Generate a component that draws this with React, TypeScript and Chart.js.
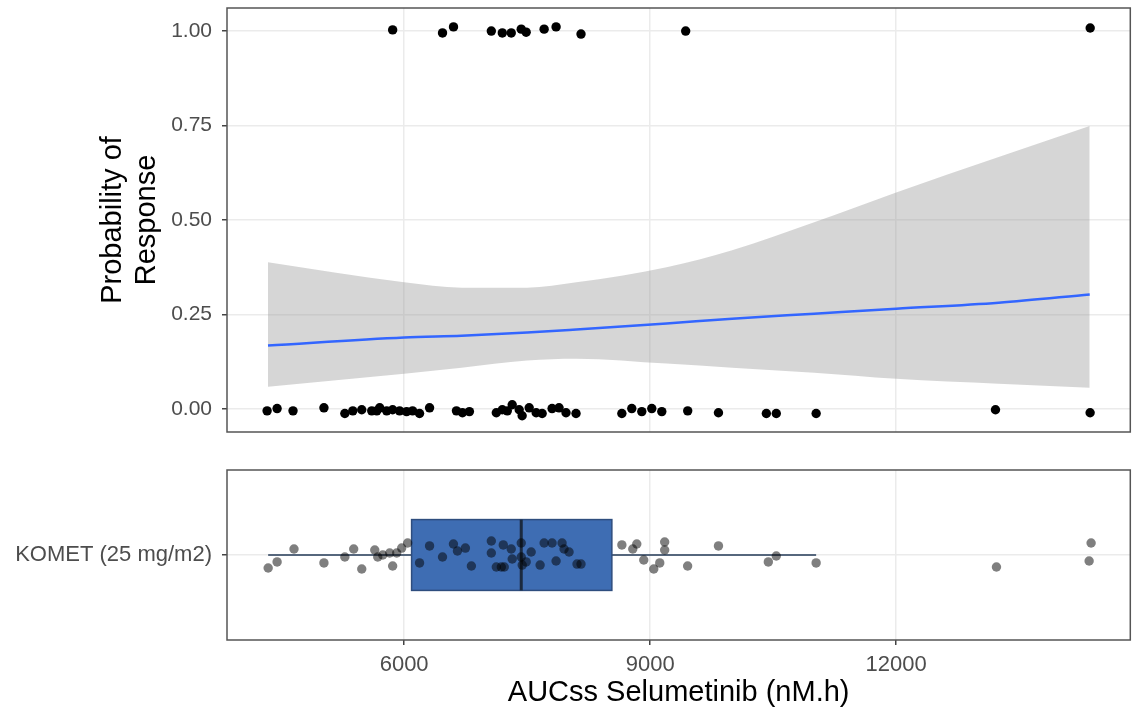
import React, { useEffect, useRef } from "react";
import { Chart, registerables } from "chart.js";

Chart.register(...registerables);

const FONT = "'Liberation Sans', Arial, sans-serif";

// Axis ticks
const xTicks = [6000, 9000, 12000];
const yTicks = [0, 0.25, 0.5, 0.75, 1];
const xMin = 3840;
const xMax = 14855;

// Responders (y jittered around 1)
const responderAUC = [5860, 6468, 6602, 7063, 7197, 7306, 7428, 7488, 7707, 7853, 8157, 9433, 14366];
const responderY = [1.003, 0.995, 1.011, 1.0, 0.995, 0.995, 1.005, 0.997, 1.005, 1.011, 0.992, 1.0, 1.008];

// Non-responders (y jittered around 0)
const nonResponderAUC = [
  4329, 4451, 4645, 5022, 5277, 5374, 5483, 5605, 5666, 5702, 5787, 5860, 5945, 6030, 6103,
  6188, 6310, 6638, 6711, 6796, 7124, 7197, 7258, 7318, 7403, 7439, 7525, 7610, 7683, 7804,
  7889, 7974, 8096, 8655, 8776, 8898, 9020, 9142, 9458, 9833, 10417, 10538, 11024, 13211, 14365,
];
const nonResponderY = [
  -0.005, 0.001, -0.005, 0.003, -0.012, -0.005, -0.002, -0.005, -0.005, 0.003, -0.005, -0.002, -0.005, -0.007, -0.005,
  -0.012, 0.003, -0.005, -0.01, -0.007, -0.01, -0.002, -0.005, 0.011, -0.002, -0.018, 0.003, -0.01, -0.012, 0.001,
  0.003, -0.01, -0.012, -0.012, 0.001, -0.007, 0.001, -0.007, -0.005, -0.01, -0.012, -0.012, -0.012, -0.002, -0.01,
];

// Logistic fit with 95% CI
const fitAUC = [4340, 6000, 6700, 7500, 8100, 9200, 10000, 11000, 12000, 13250, 14360];
const fitProb = [0.168, 0.189, 0.194, 0.202, 0.21, 0.226, 0.239, 0.252, 0.265, 0.281, 0.303];
const ciLower = [0.059, 0.093, 0.109, 0.128, 0.133, 0.12, 0.109, 0.096, 0.08, 0.067, 0.056];
const ciUpper = [0.388, 0.335, 0.321, 0.321, 0.335, 0.375, 0.42, 0.494, 0.573, 0.667, 0.749];

// Boxplot panel
const categoryLabel = "KOMET (25 mg/m2)";
const boxStats = [4342, 6091, 7428, 8533, 11024]; // lower whisker, Q1, median, Q3, upper whisker
const stripAUC = [
  4342, 4451, 4657, 5022, 5277, 5385, 5483, 5642, 5678, 5739, 5824, 5860, 5909, 5970, 6043,
  6188, 6310, 6468, 6601, 6650, 6747, 6820, 7063, 7063, 7124, 7185, 7221, 7209, 7306, 7318,
  7428, 7428, 7440, 7488, 7549, 7658, 7707, 7804, 7853, 7926, 7950, 8011, 8108, 8157, 8655,
  8788, 8837, 8922, 9044, 9117, 9177, 9177, 9457, 9833, 10441, 10538, 11024, 13223, 14377, 14353,
];
const stripJitter = [
  0.908, 0.951, 1.042, 0.944, 0.986, 1.042, 0.901, 1.035, 0.986, 1.0, 1.014, 0.922, 1.014, 1.049, 1.085,
  0.944, 1.064, 0.986, 1.078, 1.028, 1.049, 0.922, 1.099, 1.014, 0.915, 0.915, 0.915, 1.071, 1.042, 0.972,
  1.085, 0.986, 0.929, 0.951, 1.021, 0.929, 1.085, 1.085, 0.958, 1.085, 1.042, 1.021, 0.936, 0.936, 1.071,
  1.042, 1.078, 0.965, 0.901, 0.944, 1.092, 1.035, 0.922, 1.064, 0.951, 0.993, 0.944, 0.915, 1.085, 0.958,
];

const GRID = "#ebebeb";
const TICK_TEXT = "#4d4d4d";

const noPad = (s: any) => {
  s.paddingTop = 0;
  s.paddingBottom = 0;
  s.paddingLeft = 0;
  s.paddingRight = 0;
};

const borderPlugin = {
  id: "panelBorder",
  afterDraw(chart: any) {
    const { ctx, chartArea } = chart;
    ctx.save();
    ctx.strokeStyle = "#555555";
    ctx.lineWidth = 1.5;
    ctx.strokeRect(chartArea.left, chartArea.top, chartArea.right - chartArea.left, chartArea.bottom - chartArea.top);
    ctx.restore();
  },
};

const boxPlugin = {
  id: "boxPlot",
  beforeDatasetsDraw(chart: any) {
    const { ctx } = chart;
    const xs = chart.scales.x;
    const ys = chart.scales.y;
    const [lo, q1, med, q3, hi] = boxStats.map((v) => xs.getPixelForValue(v));
    const yc = ys.getPixelForValue(1);
    const yTop = ys.getPixelForValue(1.25);
    const yBot = ys.getPixelForValue(0.75);
    ctx.save();
    ctx.strokeStyle = "#56677d";
    ctx.lineWidth = 2;
    ctx.beginPath();
    ctx.moveTo(lo, yc);
    ctx.lineTo(q1, yc);
    ctx.moveTo(q3, yc);
    ctx.lineTo(hi, yc);
    ctx.stroke();
    ctx.fillStyle = "#3e6db3";
    ctx.fillRect(q1, yTop, q3 - q1, yBot - yTop);
    ctx.strokeStyle = "#2e4d7e";
    ctx.lineWidth = 1.5;
    ctx.strokeRect(q1, yTop, q3 - q1, yBot - yTop);
    ctx.strokeStyle = "#1b2a3f";
    ctx.lineWidth = 3;
    ctx.beginPath();
    ctx.moveTo(med, yTop);
    ctx.lineTo(med, yBot);
    ctx.stroke();
    ctx.restore();
  },
};

export default function App() {
  const topRef = useRef<HTMLCanvasElement>(null);
  const botRef = useRef<HTMLCanvasElement>(null);

  useEffect(() => {
    const pts = [
      ...responderAUC.map((x, i) => ({ x, y: responderY[i] })),
      ...nonResponderAUC.map((x, i) => ({ x, y: nonResponderY[i] })),
    ];
    const top = new Chart(topRef.current!, {
      type: "line",
      data: {
        datasets: [
          {
            data: pts,
            showLine: false,
            pointRadius: 4.7,
            pointBackgroundColor: "#000",
            pointBorderWidth: 0,
            order: 0,
          } as any,
          {
            data: fitAUC.map((x, i) => ({ x, y: fitProb[i] })),
            borderColor: "#3366ff",
            borderWidth: 2.5,
            pointRadius: 0,
            cubicInterpolationMode: "monotone",
            fill: false,
            order: 1,
          },
          {
            data: fitAUC.map((x, i) => ({ x, y: ciLower[i] })),
            borderWidth: 0,
            borderColor: "rgba(0,0,0,0)",
            pointRadius: 0,
            cubicInterpolationMode: "monotone",
            fill: false,
            order: 3,
          },
          {
            data: fitAUC.map((x, i) => ({ x, y: ciUpper[i] })),
            borderWidth: 0,
            borderColor: "rgba(0,0,0,0)",
            backgroundColor: "rgba(153,153,153,0.4)",
            pointRadius: 0,
            cubicInterpolationMode: "monotone",
            fill: 2,
            order: 2,
          },
        ],
      },
      options: {
        animation: false,
        responsive: false,
        devicePixelRatio: 1,
        layout: { padding: { left: 0, right: 3, top: 8, bottom: 18 } },
        plugins: { legend: { display: false }, tooltip: { enabled: false } },
        scales: {
          x: {
            type: "linear",
            min: xMin,
            max: xMax,
            afterBuildTicks: (s: any) => {
              s.ticks = xTicks.map((v) => ({ value: v }));
            },
            ticks: { display: false },
            grid: { color: GRID, lineWidth: 1.5, drawTicks: false },
            border: { display: false },
            afterFit: (s: any) => {
              s.height = 0;
              noPad(s);
            },
          },
          y: {
            type: "linear",
            min: -0.061,
            max: 1.061,
            afterBuildTicks: (s: any) => {
              s.ticks = yTicks.map((v) => ({ value: v }));
            },
            ticks: {
              callback: (v: any) => Number(v).toFixed(2),
              color: TICK_TEXT,
              font: { size: 21, family: FONT },
              padding: 10,
            },
            grid: { color: GRID, lineWidth: 1.5, tickLength: 5, tickColor: "#444", drawTicks: true },
            border: { display: false },
            title: {
              display: true,
              text: ["Probability of", "Response"],
              color: "#000",
              font: { size: 29, family: FONT, lineHeight: 1.17 },
              padding: { top: 96, bottom: 0 },
            },
            afterFit: (s: any) => {
              s.width = 227;
              noPad(s);
            },
          },
        },
      } as any,
      plugins: [borderPlugin],
    });

    const bot = new Chart(botRef.current!, {
      type: "line",
      data: {
        datasets: [
          {
            data: stripAUC.map((x, i) => ({ x, y: stripJitter[i] })),
            showLine: false,
            pointRadius: 4.7,
            pointBackgroundColor: "rgba(0,0,0,0.5)",
            pointBorderWidth: 0,
          } as any,
        ],
      },
      options: {
        animation: false,
        responsive: false,
        devicePixelRatio: 1,
        layout: { padding: { left: 0, right: 3, top: 20, bottom: 0 } },
        plugins: { legend: { display: false }, tooltip: { enabled: false } },
        scales: {
          x: {
            type: "linear",
            min: xMin,
            max: xMax,
            afterBuildTicks: (s: any) => {
              s.ticks = xTicks.map((v) => ({ value: v }));
            },
            ticks: {
              color: TICK_TEXT,
              font: { size: 22, family: FONT },
              padding: 7,
              maxRotation: 0,
              callback: (v: any) => String(v),
            },
            grid: { color: GRID, lineWidth: 1.5, tickLength: 5, tickColor: "#444", drawTicks: true },
            border: { display: false },
            title: {
              display: true,
              text: "AUCss Selumetinib (nM.h)",
              color: "#000",
              font: { size: 29, family: FONT },
              padding: { top: 0, bottom: 4 },
            },
            afterFit: (s: any) => {
              s.height = 74;
              noPad(s);
            },
          },
          y: {
            type: "linear",
            min: 0.4,
            max: 1.6,
            afterBuildTicks: (s: any) => {
              s.ticks = [{ value: 1 }];
            },
            ticks: {
              callback: () => categoryLabel,
              color: TICK_TEXT,
              font: { size: 22, family: FONT },
              padding: 10,
            },
            grid: { color: GRID, lineWidth: 1.5, tickLength: 5, tickColor: "#444", drawTicks: true },
            border: { display: false },
            afterFit: (s: any) => {
              s.width = 227;
              noPad(s);
            },
          },
        },
      } as any,
      plugins: [boxPlugin, borderPlugin],
    });

    return () => {
      top.destroy();
      bot.destroy();
    };
  }, []);

  return (
    <div style={{ position: "fixed", left: 0, top: 0, width: 1135, height: 714, background: "#fff" }}>
      <canvas ref={topRef} width={1135} height={450} style={{ position: "absolute", left: 0, top: 0 }} />
      <canvas ref={botRef} width={1135} height={264} style={{ position: "absolute", left: 0, top: 450 }} />
    </div>
  );
}
